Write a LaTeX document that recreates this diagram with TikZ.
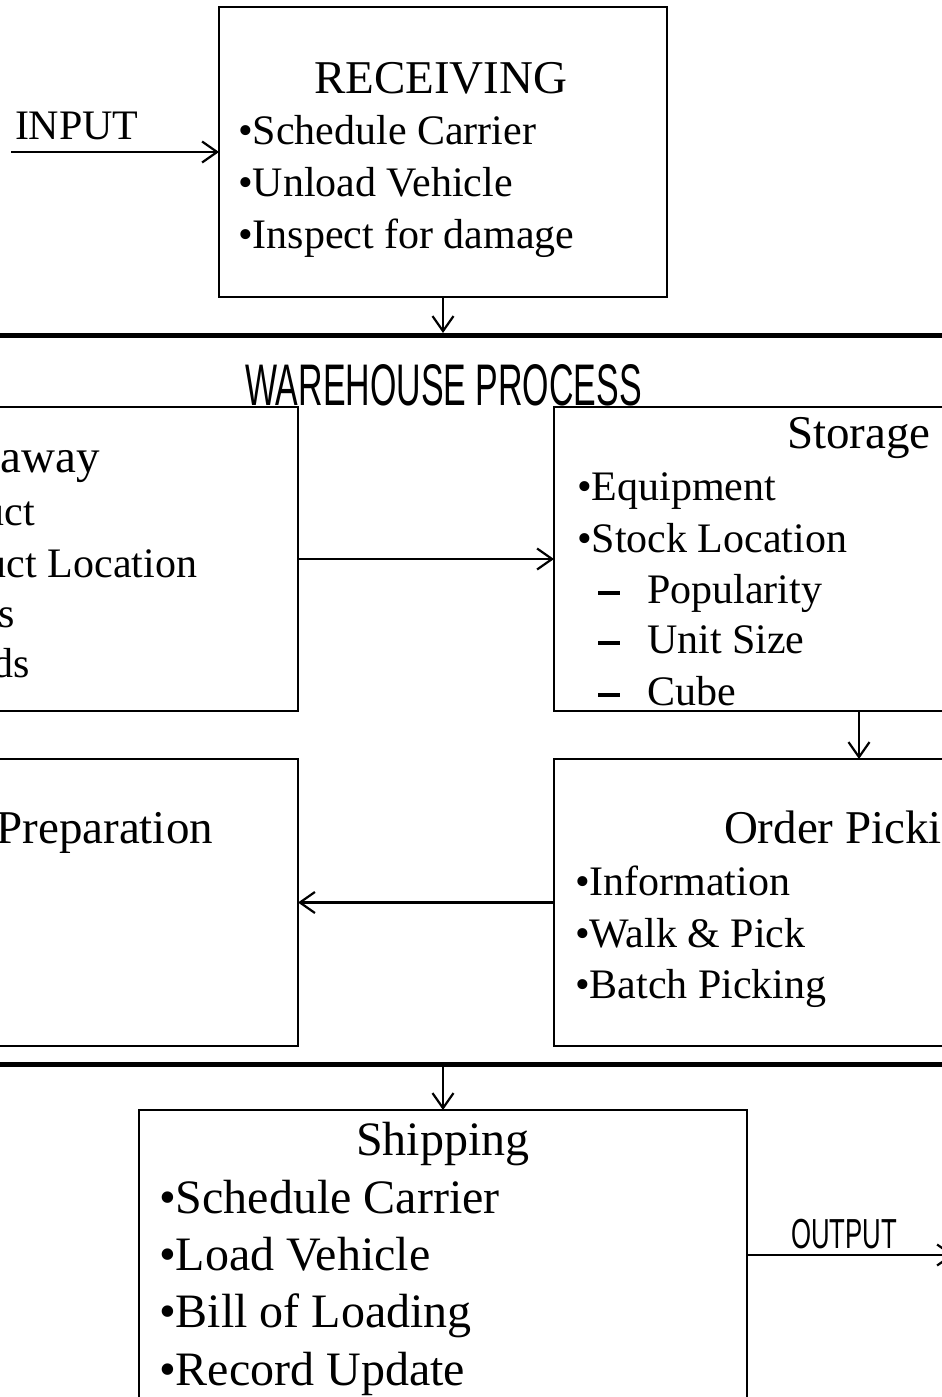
\documentclass[tikz,border=0pt]{standalone}
\usepackage{fontspec}
\setmainfont{Liberation Serif}
\newfontfamily\condsans{Liberation Sans}
\usetikzlibrary{arrows.meta}
\newcommand{\subdash}{\makebox[49pt][l]{\rule[8pt]{22pt}{4pt}}}
\begin{document}
\begin{tikzpicture}[x=1pt,y=-1pt,
  box/.style={draw,line width=2.2pt,inner sep=0pt,outer sep=0pt,anchor=north west},
  txt/.style={inner sep=0pt,outer sep=0pt,font=\fontsize{42}{52}\selectfont},
  ttl/.style={inner sep=0pt,outer sep=0pt,font=\fontsize{47}{56}\selectfont},
  big/.style={inner sep=0pt,outer sep=0pt,font=\fontsize{48}{58}\selectfont},
  conn/.style={line width=2.2pt,-{Straight Barb[length=15pt,width=21pt,line width=2.2pt]}},
  bar/.style={line width=5pt}]
\useasboundingbox (0,0) rectangle (942,1397);
\clip (0,0) rectangle (942,1397);
% boxes
\node[box,minimum width=448pt,minimum height=290pt] (recv) at (219,7) {};
\node[box,minimum width=428pt,minimum height=304pt] (put) at (-130,407) {};
\node[box,minimum width=520pt,minimum height=304pt] (stor) at (554,407) {};
\node[box,minimum width=428pt,minimum height=287pt] (prep) at (-130,759) {};
\node[box,minimum width=520pt,minimum height=287pt] (pick) at (554,759) {};
\node[box,minimum width=608pt,minimum height=330pt] (ship) at (139,1110) {};
% thick bars
\draw[bar] (-10,335) -- (952,335);
\draw[bar] (-10,1064) -- (952,1064);
\coordinate (bar1) at (443,333);
\coordinate (bar2) at (443,1066);
\coordinate (inbeg) at (11,152);
\coordinate (outend) at (954,1255);
% connectors
\draw[conn] (inbeg) -- (recv.west);
\draw[conn] (recv.south) -- (bar1);
\draw[conn] (put.east) -- (stor.west);
\draw[conn] ([xshift=305pt]stor.south west) -- ([xshift=305pt]pick.north west);
\draw[conn] (pick.west) -- (prep.east);
\draw[conn] (bar2) -- (ship.north);
\draw[conn] ([yshift=20pt]ship.east) -- (outend);
% labels
\node[txt,anchor=base west] (inlbl) at (15,139) {INPUT};
\node[inner sep=0pt,anchor=base west] (outlbl) at (791,1248) {\scalebox{0.614}[1]{\condsans\fontsize{42}{44}\selectfont OUTPUT}};
\node[inner sep=0pt,anchor=base west] (wp) at (245,405) {\scalebox{0.578}[1]{\condsans\fontsize{58.7}{60}\selectfont WAREHOUSE PROCESS}};
% receiving
\node[ttl,anchor=base west] (recvt) at (314,93) {RECEIVING};
\node[txt,anchor=base west] (r1) at (238,144) {•Schedule Carrier};
\node[txt,anchor=base west] (r2) at (238,196) {•Unload Vehicle};
\node[txt,anchor=base west] (r3) at (238,248) {•Inspect for damage};
% putaway (cut at left)
\node[ttl,anchor=base east] (putt) at (100,472) {away};
\node[txt,anchor=base east] (p1) at (35,525) {uct};
\node[txt,anchor=base east] (p2) at (197,577) {uct Location};
\node[txt,anchor=base east] (p3) at (15,627) {s};
\node[txt,anchor=base east] (p4) at (30,677) {ds};
% storage
\node[ttl,anchor=base west] (stort) at (787,448) {Storage};
\node[txt,anchor=base west] (s1) at (577,500) {•Equipment};
\node[txt,anchor=base west] (s2) at (577,552) {•Stock Location};
\node[txt,anchor=base west] (s3) at (598,603) {\subdash Popularity};
\node[txt,anchor=base west] (s4) at (598,653) {\subdash Unit Size};
\node[txt,anchor=base west] (s5) at (598,705) {\subdash Cube};
% preparation
\node[ttl,anchor=base east] (prept) at (213,843) {Preparation};
% order picking
\node[ttl,anchor=base west] (pickt) at (724,843) {Order Picki};
\node[txt,anchor=base west] (o1) at (575,895) {•Information};
\node[txt,anchor=base west] (o2) at (575,947) {•Walk \& Pick};
\node[txt,anchor=base west] (o3) at (575,998) {•Batch Picking};
% shipping
\node[big,anchor=base west] (shipt) at (356,1155) {Shipping};
\node[big,anchor=base west] (h1) at (159,1213) {•Schedule Carrier};
\node[big,anchor=base west] (h2) at (159,1270) {•Load Vehicle};
\node[big,anchor=base west] (h3) at (159,1327) {•Bill of Loading};
\node[big,anchor=base west] (h4) at (159,1385) {•Record Update};
\end{tikzpicture}
\end{document}
